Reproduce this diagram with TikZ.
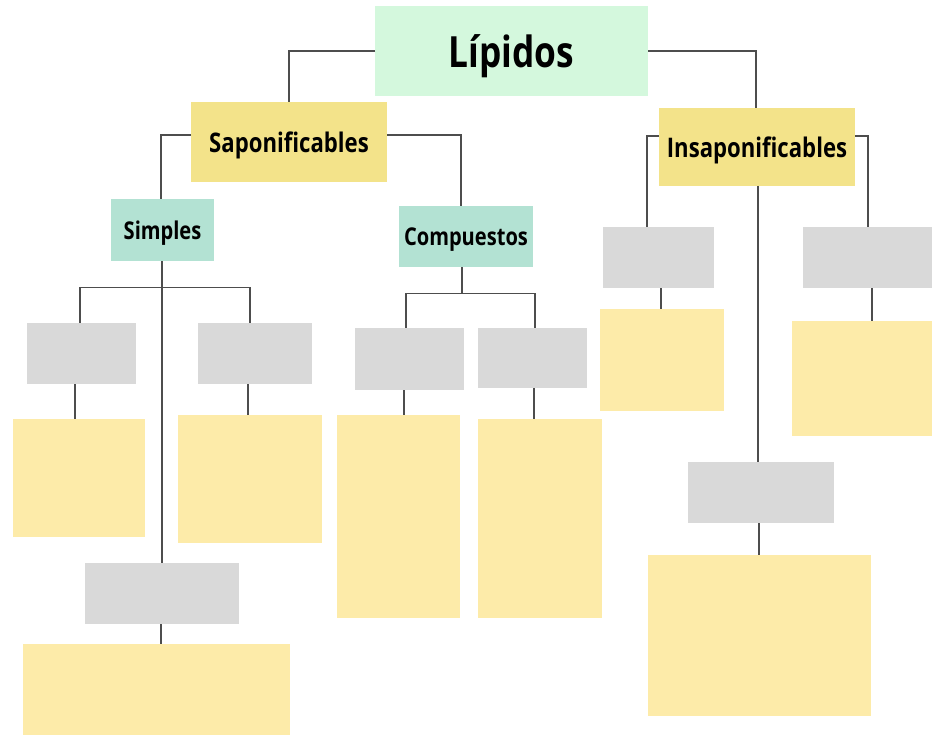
\documentclass[tikz,border=0pt]{standalone}
\usepackage{fontspec}
\setmainfont{Open Sans}[FakeStretch=0.82]
\begin{document}
\definecolor{rootgreen}{HTML}{D4F8DD}
\definecolor{mainyellow}{HTML}{F3E38A}
\definecolor{subteal}{HTML}{B3E2D3}
\definecolor{slotgray}{HTML}{D9D9D9}
\definecolor{noteyellow}{HTML}{FDEBA9}
\definecolor{linkgray}{HTML}{4D4D4D}
\begin{tikzpicture}[x=1pt,y=-1pt,
  box/.style={inner sep=0pt,outer sep=0pt,text depth=0pt,minimum width=#1},
  root/.style={box=273pt,minimum height=90pt,fill=rootgreen,font=\bfseries\fontsize{43}{50}\selectfont},
  group/.style={box=196pt,fill=mainyellow,font=\bfseries\fontsize{27}{31}\selectfont},
  subgroup/.style={fill=subteal,inner sep=0pt,text depth=0pt,font=\bfseries\fontsize{24.5}{28}\selectfont},
  slot/.style={fill=slotgray,inner sep=0pt},
  note/.style={fill=noteyellow,inner sep=0pt},
  link/.style={draw=linkgray,line width=1.2pt}]
\useasboundingbox (0,0) rectangle (932,735);
\fill[white] (0,0) rectangle (932,735);

% main hierarchy
\node[root] (lip) at (511.5,51) {Lípidos};
\node[group,minimum height=80pt] (sap) at (289,142) {Saponificables};
\node[group,minimum height=78pt] (insap) at (757,147) {Insaponificables};
\node[subgroup,minimum width=103pt,minimum height=62pt] (simp) at (162.5,230) {Simples};
\node[subgroup,minimum width=134pt,minimum height=61pt] (comp) at (466,236.5) {Compuestos};

% grey label slots
\node[slot,minimum width=109pt,minimum height=61pt] (g1) at (81.5,353.5) {};
\node[slot,minimum width=114pt,minimum height=61pt] (g2) at (255,353.5) {};
\node[slot,minimum width=109pt,minimum height=62pt] (g3) at (409.5,359) {};
\node[slot,minimum width=109pt,minimum height=60pt] (g4) at (532.5,358) {};
\node[slot,minimum width=111pt,minimum height=61pt] (g5) at (658.5,257.5) {};
\node[slot,minimum width=129pt,minimum height=61pt] (g6) at (867.5,257.5) {};
\node[slot,minimum width=146pt,minimum height=61pt] (g7) at (761,492.5) {};
\node[slot,minimum width=154pt,minimum height=61pt] (g8) at (162,593.5) {};

% yellow description boxes
\node[note,minimum width=132pt,minimum height=118pt] (y1) at (79,478) {};
\node[note,minimum width=144pt,minimum height=128pt] (y2) at (250,479) {};
\node[note,minimum width=123pt,minimum height=203pt] (y3) at (398.5,516.5) {};
\node[note,minimum width=124pt,minimum height=199pt] (y4) at (540,518.5) {};
\node[note,minimum width=124pt,minimum height=102pt] (y5) at (662,360) {};
\node[note,minimum width=140pt,minimum height=115pt] (y6) at (862,378.5) {};
\node[note,minimum width=223pt,minimum height=161pt] (y7) at (759.5,635.5) {};
\node[note,minimum width=267pt,minimum height=91pt] (y8) at (156.5,689.5) {};

% connectors
\draw[link] (lip.west) -| (sap.north);
\draw[link] (lip.east) -| ([xshift=-1pt]insap.north);
\draw[link] ([yshift=7pt]sap.west) -| ([xshift=-1.5pt]simp.north);
\draw[link] ([yshift=7pt]sap.east) -| ([xshift=-5pt]comp.north);
\draw[link] ([yshift=11pt]insap.west) -| ([xshift=-11.5pt]g5.north);
\draw[link] ([yshift=11pt]insap.east) -| ([xshift=0.5pt]g6.north);
\draw[link] ([xshift=1pt]insap.south) -- ([xshift=1pt]insap.south |- g7.north);

\coordinate (sbar) at ([yshift=-26pt]simp.south);
\draw[link] ([xshift=-0.5pt]simp.south) -- ([xshift=-0.5pt]simp.south |- g8.north);
\draw[link] ([xshift=-1.5pt]g1.north) |- (sbar) -| ([xshift=-5pt]g2.north);

\coordinate (cbar) at ([yshift=-26pt]comp.south);
\draw[link] ([xshift=-4pt]comp.south) -- ([xshift=-4pt]cbar);
\draw[link] ([xshift=-3.5pt]g3.north) |- ([xshift=-4pt]cbar) -| ([xshift=2.5pt]g4.north);

\draw[link] ([xshift=-6.5pt]g1.south) -- ([xshift=-6.5pt]g1.south |- y1.north);
\draw[link] ([xshift=-7pt]g2.south) -- ([xshift=-7pt]g2.south |- y2.north);
\draw[link] ([xshift=-5.5pt]g3.south) -- ([xshift=-5.5pt]g3.south |- y3.north);
\draw[link] ([xshift=1.5pt]g4.south) -- ([xshift=1.5pt]g4.south |- y4.north);
\draw[link] ([xshift=2.5pt]g5.south) -- ([xshift=2.5pt]g5.south |- y5.north);
\draw[link] ([xshift=4.5pt]g6.south) -- ([xshift=4.5pt]g6.south |- y6.north);
\draw[link] ([xshift=-2pt]g7.south) -- ([xshift=-2pt]g7.south |- y7.north);
\draw[link] ([xshift=-1pt]g8.south) -- ([xshift=-1pt]g8.south |- y8.north);
\end{tikzpicture}
\end{document}
